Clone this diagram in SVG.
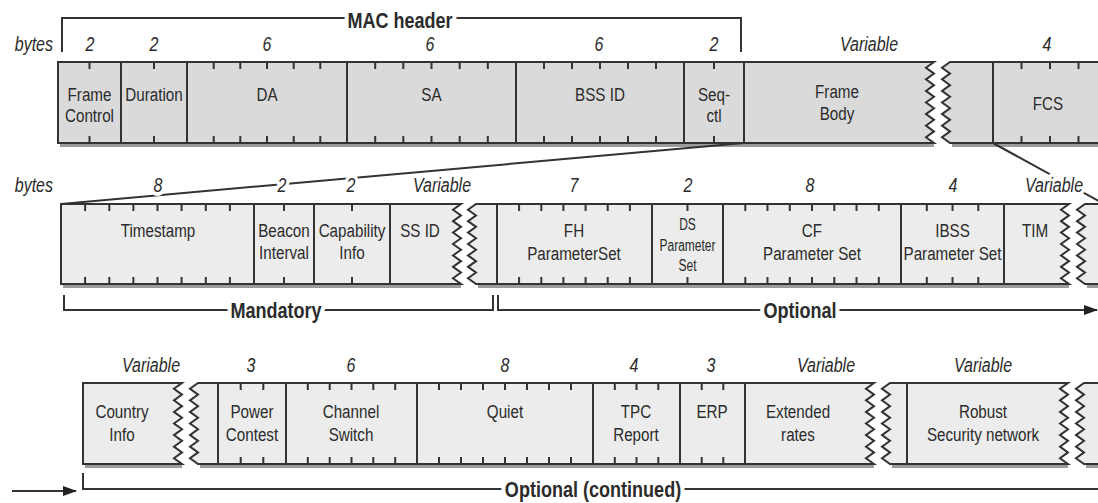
<svg xmlns="http://www.w3.org/2000/svg" width="1098" height="503" viewBox="0 0 1098 503">
<style>
text{font-family:'Liberation Sans',Arial,sans-serif;fill:#2b2b2b}
.f{font-size:19px;text-anchor:middle}
.fs{font-size:16px;text-anchor:middle}
.n{font-size:20px;font-style:italic;text-anchor:middle;stroke:#fff;stroke-width:8px;paint-order:stroke;stroke-linejoin:round}
.by{font-size:20px;font-style:italic;text-anchor:end}
.b{font-size:22px;font-weight:bold;text-anchor:middle;stroke:#fff;stroke-width:10px;paint-order:stroke;stroke-linejoin:round}
.r1{fill:#dadada;stroke:#333;stroke-width:2}
.r2{fill:#ececec;stroke:#333;stroke-width:2}
.tk{stroke:#333;stroke-width:2;fill:none}
.sh{fill:#9c9c9c}
.ln{stroke:#333;stroke-width:2;fill:none}
</style>
<defs>
<marker id="ah" markerUnits="userSpaceOnUse" markerWidth="14" markerHeight="10" refX="13" refY="5" orient="auto">
<path d="M0,0 L14,5 L0,10 Z" fill="#222"/>
</marker>
</defs>

<g id="shadows">
<rect class="sh" x="60" y="144" width="874" height="3"/>
<rect class="sh" x="952" y="144" width="160" height="3"/>
<rect class="sh" x="63" y="285" width="398" height="3"/>
<rect class="sh" x="478" y="285" width="591" height="3"/>
<rect class="sh" x="1087" y="285" width="30" height="3"/>
<rect class="sh" x="85" y="465" width="97" height="3"/>
<rect class="sh" x="200" y="465" width="674" height="3"/>
<rect class="sh" x="892" y="465" width="176" height="3"/>
<rect class="sh" x="1086" y="465" width="30" height="3"/>
</g>

<g id="connectors">
<path class="ln" d="M62,52 V18 H741 V52"/>
<path class="ln" d="M744,143 L61,204"/>
<path class="ln" d="M993,143 L1104,204"/>
<path class="ln" d="M64,295 V310 H493 V295"/>
<path class="ln" d="M498,295 V310 H1097" marker-end="url(#ah)"/>
<path class="ln" d="M12,491 H76" marker-end="url(#ah)"/>
<path class="ln" d="M83,473 V489 H1100"/>
</g>

<g id="labels">
<text class="b" transform="scale(0.82,1)" x="487.8" y="28">MAC header</text>
<g transform="scale(0.8,1)">
<text class="by" x="66.25" y="51">bytes</text>
<text class="n" x="112.5" y="51">2</text>
<text class="n" x="192.5" y="51">2</text>
<text class="n" x="333.75" y="51">6</text>
<text class="n" x="537.5" y="51">6</text>
<text class="n" x="748.75" y="51">6</text>
<text class="n" x="892.5" y="51">2</text>
<text class="n" x="1086.25" y="51">Variable</text>
<text class="n" x="1308.75" y="51">4</text>

<text class="by" x="66.25" y="192">bytes</text>
<text class="n" x="197.5" y="192">8</text>
<text class="n" x="352.5" y="192">2</text>
<text class="n" x="438.75" y="192">2</text>
<text class="n" x="552.5" y="192">Variable</text>
<text class="n" x="717.5" y="192">7</text>
<text class="n" x="860" y="192">2</text>
<text class="n" x="1012.5" y="192">8</text>
<text class="n" x="1191.25" y="192">4</text>
<text class="n" x="1317.5" y="192">Variable</text>

<text class="n" x="188.75" y="372">Variable</text>
<text class="n" x="313.75" y="372">3</text>
<text class="n" x="438.75" y="372">6</text>
<text class="n" x="631.25" y="372">8</text>
<text class="n" x="792.5" y="372">4</text>
<text class="n" x="888.75" y="372">3</text>
<text class="n" x="1032.5" y="372">Variable</text>
<text class="n" x="1228.75" y="372">Variable</text>
</g>
<g transform="scale(0.82,1)">
<text class="b" x="336.6" y="318">Mandatory</text>
<text class="b" x="975.6" y="318">Optional</text>
<text class="b" x="723.2" y="497">Optional (continued)</text>
</g>
</g>

<!-- Row 1 -->
<g id="frame-control"><rect class="r1" x="58" y="62" width="63" height="81"/><path class="tk" d="M89.5,62v7M89.5,143v-7"/><g transform="scale(0.8,1)"><text class="f" x="111.875" y="101">Frame</text><text class="f" x="111.875" y="122">Control</text></g></g>
<g id="duration"><rect class="r1" x="121" y="62" width="66" height="81"/><path class="tk" d="M154,62v7M154,143v-7"/><text class="f" transform="scale(0.8,1)" x="192.5" y="101">Duration</text></g>
<g id="da"><rect class="r1" x="187" y="62" width="160" height="81"/><path class="tk" d="M213.7,62v7M240.3,62v7M267,62v7M293.7,62v7M320.3,62v7M213.7,143v-7M240.3,143v-7M267,143v-7M293.7,143v-7M320.3,143v-7"/><text class="f" transform="scale(0.8,1)" x="333.75" y="101">DA</text></g>
<g id="sa"><rect class="r1" x="347" y="62" width="169" height="81"/><path class="tk" d="M375.2,62v7M403.3,62v7M431.5,62v7M459.7,62v7M487.8,62v7M375.2,143v-7M403.3,143v-7M431.5,143v-7M459.7,143v-7M487.8,143v-7"/><text class="f" transform="scale(0.8,1)" x="539.375" y="101">SA</text></g>
<g id="bssid"><rect class="r1" x="516" y="62" width="168" height="81"/><path class="tk" d="M544,62v7M572,62v7M600,62v7M628,62v7M656,62v7M544,143v-7M572,143v-7M600,143v-7M628,143v-7M656,143v-7"/><text class="f" transform="scale(0.8,1)" x="750" y="101">BSS ID</text></g>
<g id="seq-ctl"><rect class="r1" x="684" y="62" width="60" height="81"/><path class="tk" d="M714,62v7M714,143v-7"/><g transform="scale(0.8,1)"><text class="f" x="892.5" y="101">Seq-</text><text class="f" x="892.5" y="122">ctl</text></g></g>
<g id="frame-body"><path class="r1" d="M744,62 H934 l-8,5.786 8,5.786 -8,5.786 8,5.786 -8,5.786 8,5.786 -8,5.786 8,5.786 -8,5.786 8,5.786 -8,5.786 8,5.786 -8,5.786 8,5.786 H744 Z"/><path class="r1" d="M993,62 H950 l-8,5.786 8,5.786 -8,5.786 8,5.786 -8,5.786 8,5.786 -8,5.786 8,5.786 -8,5.786 8,5.786 -8,5.786 8,5.786 -8,5.786 8,5.786 H993 Z"/><g transform="scale(0.8,1)"><text class="f" x="1046.25" y="98">Frame</text><text class="f" x="1046.25" y="120">Body</text></g></g>
<g id="fcs"><rect class="r1" x="993" y="62" width="120" height="81"/><path class="tk" d="M1021.5,62v7M1050,62v7M1078.5,62v7M1021.5,143v-7M1050,143v-7M1078.5,143v-7"/><text class="f" transform="scale(0.8,1)" x="1310" y="110">FCS</text></g>

<!-- Row 2 -->
<g id="timestamp"><rect class="r2" x="61" y="204" width="193" height="80"/><path class="tk" d="M85.1,204v7M109.3,204v7M133.4,204v7M157.5,204v7M181.6,204v7M205.8,204v7M229.9,204v7M85.1,284v-7M109.3,284v-7M133.4,284v-7M157.5,284v-7M181.6,284v-7M205.8,284v-7M229.9,284v-7"/><text class="f" transform="scale(0.8,1)" x="197.5" y="237">Timestamp</text></g>
<g id="beacon-interval"><rect class="r2" x="254" y="204" width="60" height="80"/><path class="tk" d="M284,204v7M284,284v-7"/><g transform="scale(0.8,1)"><text class="f" x="355" y="237">Beacon</text><text class="f" x="355" y="259">Interval</text></g></g>
<g id="capability-info"><rect class="r2" x="314" y="204" width="76" height="80"/><path class="tk" d="M352,204v7M352,284v-7"/><g transform="scale(0.8,1)"><text class="f" x="440" y="237">Capability</text><text class="f" x="440" y="259">Info</text></g></g>
<g id="ssid"><path class="r2" d="M390,204 H461 l-8,5.714 8,5.714 -8,5.714 8,5.714 -8,5.714 8,5.714 -8,5.714 8,5.714 -8,5.714 8,5.714 -8,5.714 8,5.714 -8,5.714 8,5.714 H390 Z"/><path class="r2" d="M497,204 H476 l-8,5.714 8,5.714 -8,5.714 8,5.714 -8,5.714 8,5.714 -8,5.714 8,5.714 -8,5.714 8,5.714 -8,5.714 8,5.714 -8,5.714 8,5.714 H497 Z"/><text class="f" transform="scale(0.8,1)" x="525" y="237">SS ID</text></g>
<g id="fh-parameter-set"><rect class="r2" x="497" y="204" width="155" height="80"/><path class="tk" d="M519.1,204v7M541.3,204v7M563.4,204v7M585.6,204v7M607.7,204v7M629.9,204v7M519.1,284v-7M541.3,284v-7M563.4,284v-7M585.6,284v-7M607.7,284v-7M629.9,284v-7"/><g transform="scale(0.8,1)"><text class="f" x="717.5" y="237">FH</text><text class="f" x="717.5" y="260">ParameterSet</text></g></g>
<g id="ds-parameter-set"><rect class="r2" x="652" y="204" width="71" height="80"/><path class="tk" d="M687.5,204v7M687.5,284v-7"/><g transform="scale(0.75,1)"><text class="fs" x="916.67" y="230">DS</text><text class="fs" x="916.67" y="251">Parameter</text><text class="fs" x="916.67" y="271">Set</text></g></g>
<g id="cf-parameter-set"><rect class="r2" x="723" y="204" width="178" height="80"/><path class="tk" d="M745.3,204v7M767.5,204v7M789.8,204v7M812,204v7M834.3,204v7M856.5,204v7M878.8,204v7M745.3,284v-7M767.5,284v-7M789.8,284v-7M812,284v-7M834.3,284v-7M856.5,284v-7M878.8,284v-7"/><g transform="scale(0.8,1)"><text class="f" x="1015" y="237">CF</text><text class="f" x="1015" y="260">Parameter Set</text></g></g>
<g id="ibss-parameter-set"><rect class="r2" x="901" y="204" width="103" height="80"/><path class="tk" d="M926.8,204v7M952.5,204v7M978.3,204v7M926.8,284v-7M952.5,284v-7M978.3,284v-7"/><g transform="scale(0.8,1)"><text class="f" x="1190.625" y="237">IBSS</text><text class="f" x="1190.625" y="260">Parameter Set</text></g></g>
<g id="tim"><path class="r2" d="M1004,204 H1069 l-8,5.714 8,5.714 -8,5.714 8,5.714 -8,5.714 8,5.714 -8,5.714 8,5.714 -8,5.714 8,5.714 -8,5.714 8,5.714 -8,5.714 8,5.714 H1004 Z"/><path class="r2" d="M1112,204 H1085 l-8,5.714 8,5.714 -8,5.714 8,5.714 -8,5.714 8,5.714 -8,5.714 8,5.714 -8,5.714 8,5.714 -8,5.714 8,5.714 -8,5.714 8,5.714 H1112 Z"/><text class="f" transform="scale(0.8,1)" x="1293.75" y="237">TIM</text></g>

<!-- Row 3 -->
<g id="country-info"><path class="r2" d="M83,383 H182 l-8,5.786 8,5.786 -8,5.786 8,5.786 -8,5.786 8,5.786 -8,5.786 8,5.786 -8,5.786 8,5.786 -8,5.786 8,5.786 -8,5.786 8,5.786 H83 Z"/><path class="r2" d="M218,383 H198 l-8,5.786 8,5.786 -8,5.786 8,5.786 -8,5.786 8,5.786 -8,5.786 8,5.786 -8,5.786 8,5.786 -8,5.786 8,5.786 -8,5.786 8,5.786 H218 Z"/><g transform="scale(0.8,1)"><text class="f" x="152.5" y="418">Country</text><text class="f" x="152.5" y="441">Info</text></g></g>
<g id="power-contest"><rect class="r2" x="218" y="383" width="68" height="81"/><path class="tk" d="M240.7,383v7M263.3,383v7M240.7,464v-7M263.3,464v-7"/><g transform="scale(0.8,1)"><text class="f" x="315" y="418">Power</text><text class="f" x="315" y="441">Contest</text></g></g>
<g id="channel-switch"><rect class="r2" x="286" y="383" width="131" height="81"/><path class="tk" d="M307.8,383v7M329.7,383v7M351.5,383v7M373.3,383v7M395.2,383v7M307.8,464v-7M329.7,464v-7M351.5,464v-7M373.3,464v-7M395.2,464v-7"/><g transform="scale(0.8,1)"><text class="f" x="438.75" y="418">Channel</text><text class="f" x="438.75" y="441">Switch</text></g></g>
<g id="quiet"><rect class="r2" x="417" y="383" width="176" height="81"/><path class="tk" d="M439,383v7M461,383v7M483,383v7M505,383v7M527,383v7M549,383v7M571,383v7M439,464v-7M461,464v-7M483,464v-7M505,464v-7M527,464v-7M549,464v-7M571,464v-7"/><text class="f" transform="scale(0.8,1)" x="631.25" y="418">Quiet</text></g>
<g id="tpc-report"><rect class="r2" x="593" y="383" width="87" height="81"/><path class="tk" d="M614.8,383v7M636.5,383v7M658.3,383v7M614.8,464v-7M636.5,464v-7M658.3,464v-7"/><g transform="scale(0.8,1)"><text class="f" x="795" y="418">TPC</text><text class="f" x="795" y="441">Report</text></g></g>
<g id="erp"><rect class="r2" x="680" y="383" width="65" height="81"/><path class="tk" d="M701.7,383v7M723.3,383v7M701.7,464v-7M723.3,464v-7"/><text class="f" transform="scale(0.8,1)" x="890" y="418">ERP</text></g>
<g id="extended-rates"><path class="r2" d="M745,383 H874 l-8,5.786 8,5.786 -8,5.786 8,5.786 -8,5.786 8,5.786 -8,5.786 8,5.786 -8,5.786 8,5.786 -8,5.786 8,5.786 -8,5.786 8,5.786 H745 Z"/><path class="r2" d="M907,383 H890 l-8,5.786 8,5.786 -8,5.786 8,5.786 -8,5.786 8,5.786 -8,5.786 8,5.786 -8,5.786 8,5.786 -8,5.786 8,5.786 -8,5.786 8,5.786 H907 Z"/><g transform="scale(0.8,1)"><text class="f" x="997.5" y="418">Extended</text><text class="f" x="997.5" y="441">rates</text></g></g>
<g id="robust-security-network"><path class="r2" d="M907,383 H1068 l-8,5.786 8,5.786 -8,5.786 8,5.786 -8,5.786 8,5.786 -8,5.786 8,5.786 -8,5.786 8,5.786 -8,5.786 8,5.786 -8,5.786 8,5.786 H907 Z"/><path class="r2" d="M1112,383 H1084 l-8,5.786 8,5.786 -8,5.786 8,5.786 -8,5.786 8,5.786 -8,5.786 8,5.786 -8,5.786 8,5.786 -8,5.786 8,5.786 -8,5.786 8,5.786 H1112 Z"/><g transform="scale(0.8,1)"><text class="f" x="1228.75" y="418">Robust</text><text class="f" x="1228.75" y="441">Security network</text></g></g>
</svg>
